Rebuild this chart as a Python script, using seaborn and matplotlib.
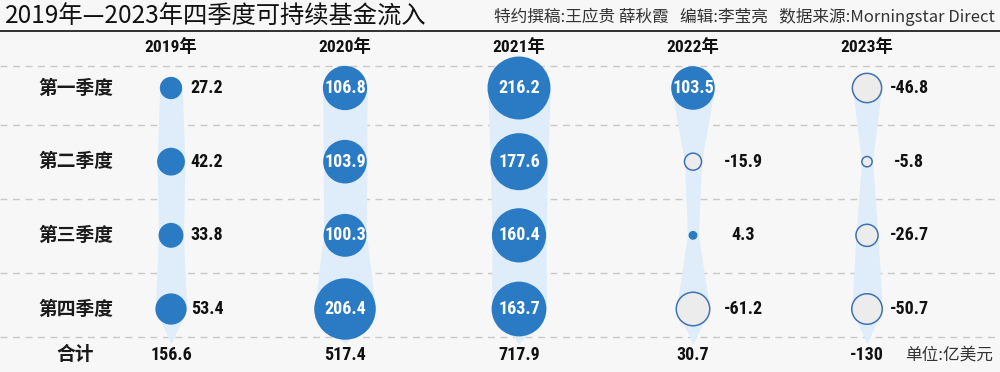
import numpy as np
import pandas as pd
import matplotlib
matplotlib.use("Agg")
import matplotlib.pyplot as plt
from matplotlib import font_manager as fm
import seaborn as sns

# ---------------- data ----------------
years = ['2019年', '2020年', '2021年', '2022年', '2023年']
quarters = ['第一季度', '第二季度', '第三季度', '第四季度']
v2019 = [27.2, 42.2, 33.8, 53.4]
v2020 = [106.8, 103.9, 100.3, 206.4]
v2021 = [216.2, 177.6, 160.4, 163.7]
v2022 = [103.5, -15.9, 4.3, -61.2]
v2023 = [-46.8, -5.8, -26.7, -50.7]
totals = [156.6, 517.4, 717.9, 30.7, -130]
total_label = '合计'
unit_label = '单位:亿美元'
title = '2019年—2023年四季度可持续基金流入'
credits = '特约撰稿:王应贵 薛秋霞   编辑:李莹亮   数据来源:Morningstar Direct'

series = [v2019, v2020, v2021, v2022, v2023]

# ---------------- styling / layout ----------------
sns.set_theme(style='white')
BG = '#f7f7f7'
BLUE = '#2b7bc4'
NEG_FILL = '#ececec'
NEG_EDGE = '#3f72b3'
BAND = '#deedf9'
plt.rcParams['font.family'] = ['Noto Sans CJK SC', 'DejaVu Sans']

names = {f.name for f in fm.fontManager.ttflist}
if 'Liberation Sans Narrow' in names:
    NARROW = dict(family=['Liberation Sans Narrow', 'Noto Sans CJK SC'])
elif 'Roboto Condensed' in names:
    NARROW = dict(family=['Roboto Condensed', 'Noto Sans CJK SC'])
else:
    NARROW = dict(family=['DejaVu Sans', 'Noto Sans CJK SC'], fontstretch='condensed')

W, H = 1000, 372
X0, DX = 171.0, 174.0      # pixel position of first column, column pitch
Y0, DY = 88.0, 73.67       # pixel position of first row, row pitch


def xd(px):
    return (px - X0) / DX


def yd(px):
    return (px - Y0) / DY


S_MAX_VAL = 216.2
S_MAX = 2054.0  # marker area (pt^2) for the largest value

rows = []
for i, (yr, vals) in enumerate(zip(years, series)):
    for j, (q, v) in enumerate(zip(quarters, vals)):
        rows.append(dict(year=yr, quarter=q, xi=i, yi=j, value=v, absval=abs(v)))
df = pd.DataFrame(rows)

fig = plt.figure(figsize=(W / 100, H / 100), dpi=100, facecolor=BG)
ax = fig.add_axes([0, 0, 1, 1])
ax.set_facecolor(BG)

# dashed separators
for ypx in [66, 125, 199, 273, 337]:
    ax.axhline(yd(ypx), color='#c9c9c9', lw=1.0, dashes=(5, 4), zorder=1)


def radius_px(v):
    diam_pt = np.sqrt(S_MAX * abs(v) / S_MAX_VAL)
    return diam_pt / 0.72 / 2


# light blue bands
for i, vals in enumerate(series):
    yk = list(range(len(vals))) + [yd(344)]
    hw = [max(radius_px(v), 5.5) / DX for v in vals] + [0.0]
    yy = np.linspace(0, yk[-1], 300)
    ww = np.interp(yy, yk, hw)
    ax.fill_betweenx(yy, i - ww, i + ww, color=BAND, lw=0, zorder=2)

# circles
pos = df[df.value > 0]
neg = df[df.value < 0]
sns.scatterplot(data=pos, x='xi', y='yi', size='absval', sizes=(0, S_MAX),
                size_norm=(0, S_MAX_VAL), color=BLUE, edgecolor='none',
                linewidth=0, legend=False, ax=ax, zorder=3)
sns.scatterplot(data=neg, x='xi', y='yi', size='absval', sizes=(0, S_MAX),
                size_norm=(0, S_MAX_VAL), color=NEG_FILL, edgecolor=NEG_EDGE,
                linewidth=1.1, legend=False, ax=ax, zorder=3)
ax.set_xlim(xd(0), xd(W))
ax.set_ylim(yd(H), yd(0))
ax.axis('off')

# value labels
label_dx = [36, 36, 36, 50, 42]
for _, r in df.iterrows():
    txt = f"{r.value:g}"
    if abs(r.value) >= 100:
        ax.text(r.xi, r.yi, txt, ha='center', va='center', color='white',
                fontsize=13, fontweight='bold', zorder=4, **NARROW)
    else:
        ax.text(r.xi + label_dx[int(r.xi)] / DX, r.yi, txt, ha='center', va='center',
                color='#111111', fontsize=13, fontweight='bold', zorder=4, **NARROW)

# year headers
for i, yr in enumerate(years):
    ax.text(i, yd(47), yr, ha='center', va='center', fontsize=12.5,
            fontweight='bold', color='#111111', **NARROW)

# row labels
for j, q in enumerate(quarters):
    ax.text(xd(76), j, q, ha='center', va='center', fontsize=13.5,
            fontweight='bold', color='#1a1a1a')

# totals
ax.text(xd(75), yd(355), total_label, ha='center', va='center', fontsize=13.5,
        fontweight='bold', color='#1a1a1a')
for i, t in enumerate(totals):
    ax.text(i, yd(355), f"{t:g}", ha='center', va='center', fontsize=13,
            fontweight='bold', color='#111111', **NARROW)
ax.text(xd(993), yd(355), unit_label, ha='right', va='center', fontsize=12,
        color='#333333')

# title, credits, rule
fig.text(5 / W, 1 - 17 / H, title, ha='left', va='center', fontsize=17.5,
         color='#111111')
fig.text(995 / W, 1 - 17 / H, credits, ha='right', va='center', fontsize=12,
         color='#333333')
fig.add_artist(plt.Line2D([0, 1], [1 - 31 / H, 1 - 31 / H], color='#222222',
                          lw=1.3, transform=fig.transFigure))

fig.savefig('out.png', dpi=100, facecolor=BG)
